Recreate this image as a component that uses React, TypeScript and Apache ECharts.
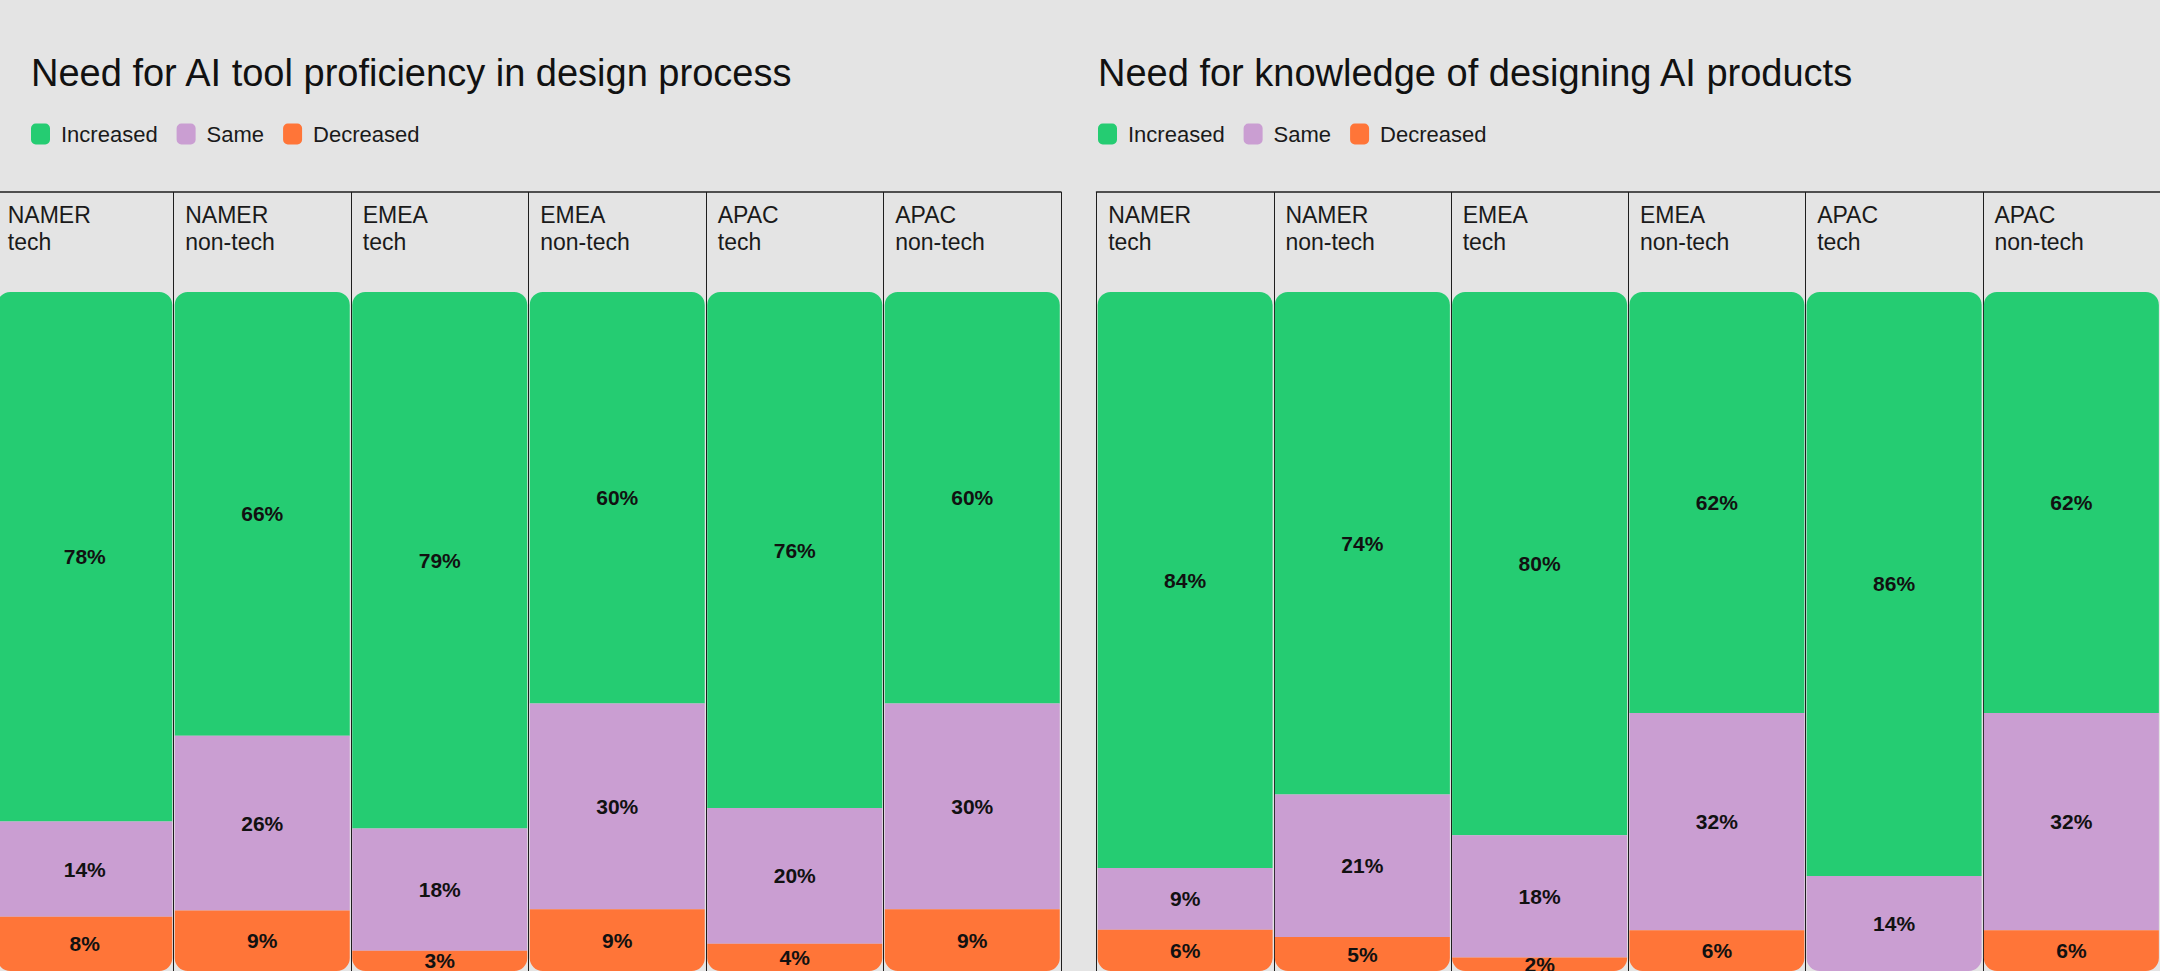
import React, { useEffect, useRef } from "react";
import * as echarts from "echarts";

const regions = ["NAMER", "NAMER", "EMEA", "EMEA", "APAC", "APAC"];
const sectors = ["tech", "non-tech", "tech", "non-tech", "tech", "non-tech"];
const seriesNames = ["Increased", "Same", "Decreased"];
const colors = ["#25CC72", "#CA9ED2", "#FF7538"];

const toolTitle = "Need for AI tool proficiency in design process";
const toolIncreased = [78, 66, 79, 60, 76, 60];
const toolSame = [14, 26, 18, 30, 20, 30];
const toolDecreased = [8, 9, 3, 9, 4, 9];

const knowTitle = "Need for knowledge of designing AI products";
const knowIncreased = [84, 74, 80, 62, 86, 62];
const knowSame = [9, 21, 18, 32, 14, 32];
const knowDecreased = [6, 5, 2, 6, 0, 6];

const FONT = "'Liberation Sans', Arial, sans-serif";
const LINE = "#1e1e1e";
const R = 13;
// The chart canvas starts 4px left of the page edge (the left table border is cropped off)
const SHIFT = 4;

const categories = regions.map((r, i) => `${r}\n${sectors[i]}`);

function buildSeries(groups: number[][], axisIndex: number, stack: string) {
  return groups.map((vals, k) => ({
    name: seriesNames[k],
    type: "bar",
    stack,
    xAxisIndex: axisIndex,
    yAxisIndex: axisIndex,
    barWidth: 175,
    itemStyle: { color: colors[k] },
    label: {
      show: true,
      position: "inside",
      fontFamily: FONT,
      fontSize: 21,
      fontWeight: "bold",
      color: "#111",
      formatter: (p: any) => (vals[p.dataIndex] ? `${vals[p.dataIndex]}%` : ""),
    },
    emphasis: { disabled: true },
    data: vals.map((v, i) => {
      const col = groups.map((g) => g[i]);
      const total = col.reduce((a, b) => a + b, 0);
      const nz = col.map((x, j) => (x > 0 ? j : -1)).filter((j) => j >= 0);
      const first = nz[0];
      const last = nz[nz.length - 1];
      const t = k === first ? R : 0;
      const b = k === last ? R : 0;
      return {
        value: (v / total) * 100,
        itemStyle: { borderRadius: [t, t, b, b] },
      };
    }),
  }));
}

function xAxis(gridIndex: number) {
  return {
    type: "category",
    gridIndex,
    position: "top",
    data: categories,
    axisLine: { show: true, onZero: false, lineStyle: { color: LINE, width: 1.5 } },
    axisTick: { show: false },
    splitLine: { show: true, interval: 0, lineStyle: { color: LINE, width: 1 } },
    axisLabel: {
      inside: true,
      interval: 0,
      margin: 9,
      formatter: (v: string) =>
        v
          .split("\n")
          .map((s) => `{a|${s}}`)
          .join("\n"),
      rich: {
        a: {
          width: 154,
          align: "left",
          fontFamily: FONT,
          fontSize: 23,
          lineHeight: 27,
          color: "#1a1a1a",
        },
      },
    },
  };
}

function yAxis(gridIndex: number) {
  return {
    type: "value",
    gridIndex,
    inverse: true,
    min: -14.727,
    max: 100,
    show: false,
    splitLine: { show: false },
  };
}

const legendBase = {
  top: 123,
  padding: 0,
  itemWidth: 19,
  itemHeight: 21,
  itemGap: 19,
  icon: "roundRect",
  data: seriesNames,
  selectedMode: false,
  textStyle: { fontFamily: FONT, fontSize: 22, color: "#1a1a1a", padding: [0, 0, 0, 6] },
};

const titleStyle = { fontFamily: FONT, fontSize: 38, fontWeight: "normal", color: "#111" };

export default function App() {
  const ref = useRef<HTMLDivElement>(null);
  useEffect(() => {
    if (!ref.current) return;
    const chart = echarts.init(ref.current, undefined, { renderer: "svg" });
    chart.setOption({
      animation: false,
      backgroundColor: "#e4e4e4",
      textStyle: { fontFamily: FONT },
      title: [
        { text: toolTitle, left: 31 + SHIFT, top: 54, padding: 0, textStyle: titleStyle },
        { text: knowTitle, left: 1098 + SHIFT, top: 54, padding: 0, textStyle: titleStyle },
      ],
      legend: [
        { ...legendBase, left: 31 + SHIFT },
        { ...legendBase, left: 1098 + SHIFT },
      ],
      grid: [
        { left: -4 + SHIFT, width: 1065, top: 192, bottom: 0, containLabel: false },
        { left: 1096.5 + SHIFT, width: 1065, top: 192, bottom: 0, containLabel: false },
      ],
      xAxis: [xAxis(0), xAxis(1)],
      yAxis: [yAxis(0), yAxis(1)],
      series: [
        ...buildSeries([toolIncreased, toolSame, toolDecreased], 0, "tool"),
        ...buildSeries([knowIncreased, knowSame, knowDecreased], 1, "know"),
      ],
    });
    return () => chart.dispose();
  }, []);
  return (
    <div style={{ position: "absolute", left: 0, top: 0, width: 2160, height: 971, overflow: "hidden", background: "#e4e4e4" }}>
      <div
        ref={ref}
        style={{ position: "absolute", left: -SHIFT, top: 0, width: 2160 + SHIFT, height: 971 }}
      />
    </div>
  );
}
